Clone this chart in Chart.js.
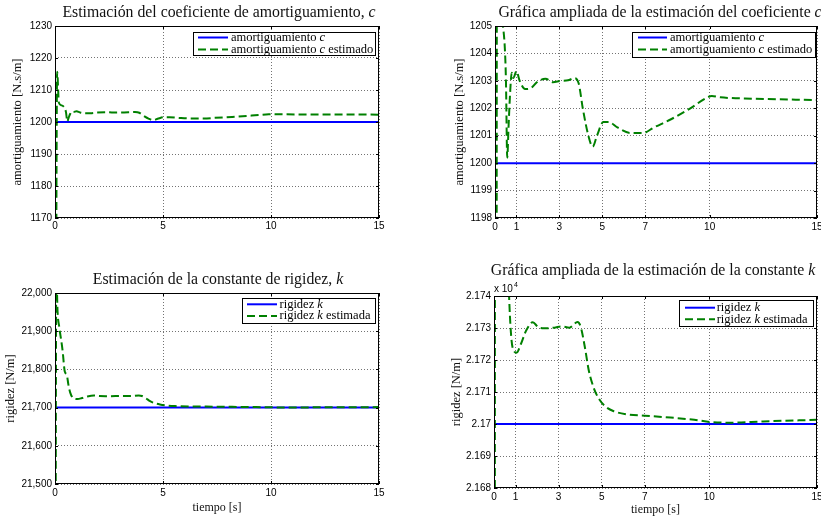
<!DOCTYPE html>
<html>
<head>
<meta charset="utf-8">
<script src="https://cdn.jsdelivr.net/npm/chart.js@4.4.1/dist/chart.umd.min.js"></script>
<style>
  body { margin: 0; background: #fff; }
  #wrap { position: relative; width: 821px; height: 521px; overflow: hidden; }
  .panel { position: absolute; }
</style>
</head>
<body>
<div id="wrap">
  <div class="panel" style="left:0;top:0"><canvas id="cFull" width="410" height="260"></canvas></div>
  <div class="panel" style="left:410px;top:0"><canvas id="cZoom" width="411" height="260"></canvas></div>
  <div class="panel" style="left:0;top:260px"><canvas id="kFull" width="410" height="261"></canvas></div>
  <div class="panel" style="left:410px;top:260px"><canvas id="kZoom" width="411" height="261"></canvas></div>
</div>
<script>
// time axis [s]
const tSpan = [0, 15];

// damping coefficient c [N.s/m]
const cTrue = 1200;
const tC = [0, 0.1, 0.18, 0.3, 0.4, 0.47, 0.51, 0.57, 0.63, 0.7, 0.78, 0.85, 1.0, 1.15, 1.4, 1.7,
  1.95, 2.35, 2.7, 3.05, 3.4, 3.7, 3.9, 4.1, 4.35, 4.55, 4.75, 5.05, 5.3, 5.7, 6.3, 6.9, 7.4,
  8.2, 9.1, 9.9, 10.1, 10.5, 12, 15];
const cEst = [1000, 1215.7, 1206, 1205.2, 1204.8, 1204, 1203, 1200.2, 1201.3, 1202.5, 1203.3, 1203.1, 1203.35, 1203.0, 1202.7, 1202.75,
  1202.95, 1203.08, 1202.95, 1203.0, 1203.02, 1203.1, 1202.9, 1201.95, 1201.0, 1200.6, 1201.0, 1201.5, 1201.5, 1201.3, 1201.1, 1201.1, 1201.3,
  1201.6, 1202.0, 1202.4, 1202.45, 1202.4, 1202.35, 1202.3];

// stiffness k [N/m]
const kTrue = 21700;
const tK = [0, 0.06, 0.12, 0.2, 0.35, 0.45, 0.55, 0.62, 0.7, 0.86, 1.05, 1.25, 1.5, 1.8, 2.05,
  2.35, 2.8, 3.15, 3.5, 3.88, 4.03, 4.22, 4.4, 4.62, 4.86, 5.17, 5.56, 6.2, 7, 8.2,
  9.3, 10.1, 11, 12.5, 15];
const kEst = [20000, 22050, 21950, 21910, 21850, 21795, 21785, 21760, 21740, 21724, 21722.3, 21725, 21729.3, 21731.8, 21730.3,
  21729.9, 21730.1, 21730.5, 21730.1, 21731.9, 21730.3, 21724, 21716.8, 21711.5, 21708, 21705.5, 21704, 21703, 21702.6, 21702,
  21701.3, 21700.6, 21700.4, 21700.8, 21701.3];

// tick values
const fullXTicks = [0, 5, 10, 15];
const zoomXTicks = [0, 1, 3, 5, 7, 10, 15];
const cFullYTicks = [1170, 1180, 1190, 1200, 1210, 1220, 1230];
const cZoomYTicks = [1198, 1199, 1200, 1201, 1202, 1203, 1204, 1205];
const kFullYTicks = [21500, 21600, 21700, 21800, 21900, 22000];
const kZoomYTicks = [21680, 21690, 21700, 21710, 21720, 21730, 21740];

const SERIF = '"Liberation Serif", "Times New Roman", serif';
const SANS = '"Liberation Sans", Arial, sans-serif';

// text with $..$ parts in italic
function drawRuns(ctx, str, x, y, size, align) {
  const runs = str.split('$').map((t, i) => ({ t, it: i % 2 === 1 })).filter(r => r.t);
  const font = r => (r.it ? 'italic ' : '') + size + 'px ' + SERIF;
  let w = 0;
  runs.forEach(r => { ctx.font = font(r); w += ctx.measureText(r.t).width; });
  let cx = align === 'center' ? x - w / 2 : x;
  ctx.textAlign = 'left';
  runs.forEach(r => { ctx.font = font(r); ctx.fillText(r.t, cx, y); cx += ctx.measureText(r.t).width; });
}

const framePlugin = {
  id: 'frame',
  afterDraw(chart, args, o) {
    const { ctx, chartArea: a, scales } = chart;
    ctx.save();
    ctx.strokeStyle = '#000';
    ctx.lineWidth = 1;
    // inward ticks on all four sides
    ctx.beginPath();
    scales.x.ticks.forEach(t => {
      const px = Math.round(scales.x.getPixelForValue(t.value)) + 0.5;
      ctx.moveTo(px, a.bottom); ctx.lineTo(px, a.bottom - 3);
      ctx.moveTo(px, a.top); ctx.lineTo(px, a.top + 3);
    });
    scales.y.ticks.forEach(t => {
      const py = Math.round(scales.y.getPixelForValue(t.value)) + 0.5;
      ctx.moveTo(a.left, py); ctx.lineTo(a.left + 3, py);
      ctx.moveTo(a.right, py); ctx.lineTo(a.right - 3, py);
    });
    ctx.stroke();
    ctx.strokeRect(a.left + 0.5, a.top + 0.5, a.right - a.left - 1, a.bottom - a.top - 1);

    // title
    ctx.fillStyle = '#111';
    ctx.textBaseline = 'alphabetic';
    drawRuns(ctx, o.title, o.titleX, o.titleY, 15.8, 'center');

    // exponent label
    if (o.expo) {
      ctx.font = '10px ' + SANS;
      ctx.fillStyle = '#000';
      ctx.fillText('x 10', o.expo[0], o.expo[1]);
      const w = ctx.measureText('x 10').width;
      ctx.font = '7px ' + SANS;
      ctx.fillText('4', o.expo[0] + w + 1, o.expo[1] - 5);
    }

    // legend box
    const b = o.legend;
    ctx.fillStyle = '#fff';
    ctx.fillRect(b.box[0], b.box[1], b.box[2], b.box[3]);
    ctx.strokeStyle = '#000';
    ctx.lineWidth = 1;
    ctx.strokeRect(b.box[0] + 0.5, b.box[1] + 0.5, b.box[2], b.box[3]);
    const items = chart.data.datasets.slice().reverse();
    items.forEach((ds, i) => {
      const y = b.rows[i];
      ctx.beginPath();
      ctx.strokeStyle = ds.borderColor;
      ctx.lineWidth = ds.borderWidth;
      ctx.setLineDash(ds.borderDash || []);
      ctx.moveTo(b.sample[0], y);
      ctx.lineTo(b.sample[1], y);
      ctx.stroke();
      ctx.setLineDash([]);
      ctx.fillStyle = '#000';
      ctx.textBaseline = 'middle';
      drawRuns(ctx, ds.label, b.textX, y, 12.5, 'left');
    });
    ctx.restore();
  }
};

function makeChart(id, o) {
  const canvas = document.getElementById(id);
  const W = canvas.width, H = canvas.height;
  const xT = o.xTicks, yT = o.yTicks;
  new Chart(canvas, {
    type: 'line',
    data: {
      datasets: [
        {
          label: o.estLabel,
          data: o.t.map((t, i) => ({ x: t, y: o.est[i] })),
          borderColor: '#008000', borderWidth: 2, borderDash: [8, 4],
          pointRadius: 0, cubicInterpolationMode: 'monotone', clip: 0
        },
        {
          label: o.trueLabel,
          data: tSpan.map(t => ({ x: t, y: o.trueVal })),
          borderColor: '#0000ff', borderWidth: 2, pointRadius: 0, clip: 0
        }
      ]
    },
    options: {
      responsive: false,
      animation: false,
      devicePixelRatio: 1,
      layout: { padding: { left: 0, top: o.area.top, right: W - o.area.right, bottom: 0 } },
      plugins: {
        legend: { display: false },
        tooltip: { enabled: false },
        frame: o.frame
      },
      scales: {
        x: {
          type: 'linear',
          min: xT[0], max: xT[xT.length - 1],
          afterBuildTicks: s => { s.ticks = xT.map(v => ({ value: v })); },
          afterFit: s => { s.height = H - o.area.bottom; s.paddingLeft = 0; s.paddingRight = 0; },
          grid: { color: 'rgba(0,0,0,0.55)', lineWidth: 1, drawTicks: false },
          border: { display: false, dash: [1, 2] },
          ticks: { font: { family: SANS, size: 10 }, color: '#000', padding: o.xPad, maxRotation: 0, autoSkip: false },
          title: o.xTitle ? {
            display: true, text: o.xTitle, color: '#111',
            font: { family: SERIF, size: 12 }, padding: { top: 0, bottom: o.xTitlePad }
          } : { display: false }
        },
        y: {
          type: 'linear',
          min: yT[0], max: yT[yT.length - 1],
          afterBuildTicks: s => { s.ticks = yT.map(v => ({ value: v })); },
          afterFit: s => { s.width = o.area.left; s.paddingTop = 0; s.paddingBottom = 0; },
          grid: { color: 'rgba(0,0,0,0.55)', lineWidth: 1, drawTicks: false },
          border: { display: false, dash: [1, 2] },
          ticks: { font: { family: SANS, size: 10 }, color: '#000', padding: 3, callback: o.yFmt },
          title: {
            display: true, text: o.yTitle, color: '#111',
            font: { family: SERIF, size: 12.5 }, padding: { top: o.yTitlePad, bottom: 0 }
          }
        }
      }
    },
    plugins: [framePlugin]
  });
}

const plain = v => String(v);

makeChart('cFull', {
  t: tC, est: cEst, trueVal: cTrue,
  estLabel: 'amortiguamiento $c$ estimado', trueLabel: 'amortiguamiento $c$',
  xTicks: fullXTicks, yTicks: cFullYTicks, yFmt: plain,
  area: { left: 55, top: 26, right: 379, bottom: 218 },
  xPad: 2, yTitle: 'amortiguamiento [N.s/m]', yTitlePad: 10.5,
  frame: {
    title: 'Estimación del coeficiente de amortiguamiento, $c$', titleX: 219, titleY: 17,
    legend: { box: [193, 32, 182, 23], rows: [37.5, 49.5], sample: [198, 228], textX: 231 }
  }
});

makeChart('cZoom', {
  t: tC, est: cEst, trueVal: cTrue,
  estLabel: 'amortiguamiento $c$ estimado', trueLabel: 'amortiguamiento $c$',
  xTicks: zoomXTicks, yTicks: cZoomYTicks, yFmt: plain,
  area: { left: 85, top: 26, right: 407, bottom: 218 },
  xPad: 3, yTitle: 'amortiguamiento [N.s/m]', yTitlePad: 42.5,
  frame: {
    title: 'Gráfica ampliada de la estimación del coeficiente $c$', titleX: 250, titleY: 17,
    legend: { box: [222, 32, 183, 25], rows: [37.5, 49.5], sample: [228, 257], textX: 260 }
  }
});

makeChart('kFull', {
  t: tK, est: kEst, trueVal: kTrue,
  estLabel: 'rigidez $k$ estimada', trueLabel: 'rigidez $k$',
  xTicks: fullXTicks, yTicks: kFullYTicks, yFmt: v => v.toLocaleString('en-US'),
  area: { left: 55, top: 33, right: 379, bottom: 224 },
  xPad: 3, xTitle: 'tiempo [s]', xTitlePad: 5.8,
  yTitle: 'rigidez [N/m]', yTitlePad: 3.5,
  frame: {
    title: 'Estimación de la constante de rigidez, $k$', titleX: 218, titleY: 24,
    legend: { box: [242, 38, 133, 25], rows: [44.3, 56], sample: [247, 277], textX: 279.5 }
  }
});

makeChart('kZoom', {
  t: tK, est: kEst, trueVal: kTrue,
  estLabel: 'rigidez $k$ estimada', trueLabel: 'rigidez $k$',
  xTicks: zoomXTicks, yTicks: kZoomYTicks, yFmt: v => String(+(v / 1e4).toFixed(4)),
  area: { left: 84, top: 36, right: 407, bottom: 228 },
  xPad: 3, xTitle: 'tiempo [s]', xTitlePad: 3.8,
  yTitle: 'rigidez [N/m]', yTitlePad: 39.5,
  frame: {
    title: 'Gráfica ampliada de la estimación de la constante $k$', titleX: 243, titleY: 15,
    expo: [84, 31.5],
    legend: { box: [269, 40, 134, 26], rows: [47.7, 59.3], sample: [275, 305], textX: 306.7 }
  }
});
</script>
</body>
</html>
